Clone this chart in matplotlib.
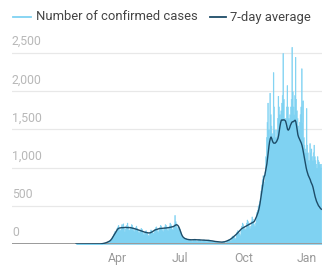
import matplotlib
matplotlib.use("Agg")
import matplotlib.pyplot as plt
from matplotlib.lines import Line2D
import numpy as np
import pandas as pd

plt.rcParams['font.family'] = ['Roboto', 'DejaVu Sans']

start_date = "2020-02-01"

# Daily confirmed cases (from 2020-02-01)
feb_cases = [0] * 29
daily_cases = [
    0, 0, 0, 0, 1, 2, 3,
    5, 4, 8, 12, 10, 15, 20,
    18, 25, 30, 35, 28, 45, 50,
    60, 75, 90, 110, 130, 150, 170,
    160, 190, 210, 230, 250, 200, 180,
    190, 220, 260, 240, 270, 210, 170,
    200, 230, 250, 280, 240, 190, 180,
    210, 230, 260, 250, 220, 180, 170,
    200, 220, 240, 210, 190, 160, 150,
    170, 190, 210, 200, 170, 140, 130,
    150, 170, 180, 160, 150, 120, 110,
    140, 160, 190, 180, 170, 150, 140,
    170, 200, 220, 230, 200, 170, 160,
    190, 220, 250, 240, 210, 180, 170,
    200, 230, 260, 250, 230, 190, 180,
    210, 240, 280, 260, 240, 200, 190,
    230, 260, 380, 300, 270, 220, 200,
    230, 220, 200, 170, 150, 110, 90,
    90, 80, 75, 70, 80, 60, 50,
    60, 70, 65, 60, 55, 45, 40,
    55, 65, 60, 70, 55, 45, 40,
    50, 60, 65, 60, 55, 45, 40,
    50, 55, 60, 55, 50, 40, 35,
    45, 55, 60, 50, 50, 40, 35,
    40, 45, 40, 40, 35, 30, 25,
    30, 35, 30, 30, 25, 20, 20,
    25, 30, 35, 30, 25, 20, 20,
    35, 45, 55, 60, 55, 50, 45,
    80, 100, 110, 100, 95, 80, 70,
    130, 160, 180, 170, 150, 130, 120,
    190, 240, 280, 260, 230, 200, 190,
    210, 280, 320, 300, 280, 230, 210,
    240, 300, 360, 330, 300, 260, 240,
    280, 350, 420, 450, 500, 520, 560,
    600, 700, 780, 850, 900, 820, 800,
    950, 1150, 1400, 1600, 1850, 1500, 1400,
    1980, 1700, 1550, 1450, 1400, 2250, 1800,
    1500, 1400, 1400, 1500, 1650, 1940, 1800,
    1700, 1650, 1750, 1850, 1950, 2500, 1900,
    1650, 1550, 1650, 1800, 2080, 1800, 1650,
    1600, 1700, 1800, 1900, 2580, 2000, 1800,
    1700, 1950, 2450, 1900, 1750, 1650, 1550,
    1500, 1600, 1700, 1800, 2300, 1600, 1880,
    1400, 1300, 1250, 1200, 1780, 1300, 1200,
    1100, 1050, 1320, 1200, 1250, 1150, 1100,
    1200, 1300, 1150, 1100, 1050, 1000, 1150,
    1100, 1080, 1050, 1000, 1050, 1000,
]

# 7-day average (from 2020-02-01)
feb_avg = [0] * 29
avg_7day = [
    0, 0, 0, 0, 0, 1, 1,
    2, 3, 4, 6, 8, 10, 12,
    15, 18, 22, 26, 30, 35, 40,
    48, 58, 70, 85, 100, 115, 130,
    145, 160, 175, 190, 200, 205, 210,
    210, 212, 215, 214, 213, 215, 216,
    217, 218, 216, 215, 214, 214, 215,
    215, 214, 212, 210, 208, 205, 202,
    200, 198, 195, 192, 190, 187, 184,
    180, 177, 174, 170, 167, 164, 160,
    157, 154, 152, 150, 148, 146, 145,
    145, 146, 148, 152, 157, 162, 168,
    175, 180, 185, 188, 192, 195, 198,
    200, 202, 203, 204, 205, 206, 206,
    207, 207, 208, 209, 210, 211, 212,
    213, 215, 217, 219, 221, 223, 225,
    228, 232, 238, 245, 250, 252, 248,
    240, 225, 205, 180, 155, 130, 110,
    95, 85, 78, 72, 68, 65, 62,
    60, 58, 57, 56, 56, 55, 55,
    55, 56, 57, 57, 57, 56, 55,
    55, 55, 54, 54, 53, 53, 52,
    52, 51, 51, 50, 50, 49, 49,
    48, 48, 47, 47, 46, 45, 44,
    42, 40, 38, 36, 34, 33, 32,
    30, 29, 28, 27, 26, 25, 25,
    25, 25, 26, 27, 28, 30, 33,
    36, 40, 44, 48, 52, 56, 62,
    68, 75, 82, 90, 98, 106, 114,
    122, 130, 140, 150, 160, 170, 180,
    190, 198, 205, 210, 215, 220, 225,
    230, 235, 240, 245, 250, 255, 260,
    265, 270, 275, 280, 285, 290, 300,
    320, 340, 360, 385, 410, 440, 480,
    530, 590, 650, 710, 770, 830, 880,
    900, 950, 1000, 1050, 1120, 1200, 1280,
    1340, 1380, 1400, 1380, 1350, 1330, 1320,
    1320, 1320, 1330, 1340, 1360, 1380, 1420,
    1480, 1540, 1590, 1620, 1625, 1620, 1625,
    1625, 1620, 1610, 1580, 1540, 1500, 1490,
    1500, 1520, 1550, 1570, 1590, 1600, 1600,
    1605, 1615, 1620, 1600, 1550, 1490, 1430,
    1400, 1380, 1360, 1340, 1320, 1290, 1250,
    1200, 1150, 1100, 1050, 1000, 960, 930,
    900, 880, 860, 840, 810, 790, 770,
    740, 700, 660, 620, 590, 560, 540,
    520, 500, 490, 475, 465, 455,
]

y_ticks = [0, 500, 1000, 1500, 2000, 2500]
y_tick_labels = ["0", "500", "1,000", "1,500", "2,000", "2,500"]
x_ticks = ["2020-04-01", "2020-07-01", "2020-10-01", "2021-01-01"]
x_tick_labels = ["Apr", "Jul", "Oct", "Jan"]
series_labels = ["Number of confirmed cases", "7-day average"]

cases = feb_cases + daily_cases
avg = feb_avg + avg_7day
dates = pd.date_range(start_date, periods=len(cases), freq="D")

LIGHT = "#7fd2f2"
DARK = "#1d4c68"
W, H = 322, 266

fig = plt.figure(figsize=(3.22, 2.66), dpi=100)
ax = fig.add_axes([12 / W, 22 / H, 1 - 12 / W, 204 / H])

ax.set_ylim(0, 2670)
ax.set_xlim(pd.Timestamp("2019-10-31"), pd.Timestamp("2021-01-23"))

for v in y_ticks[1:]:
    ax.axhline(v, color="#e8e8e8", lw=0.9, zorder=0)

ax.fill_between(dates, 0, cases, step="mid", color=LIGHT, linewidth=0.4,
                edgecolor=LIGHT, zorder=2)
ax.axhline(0, color="#9a9a9a", lw=1.4, zorder=3)
ax.plot(dates, avg, color=DARK, lw=1.0, zorder=4)

for v, lab in zip(y_ticks, y_tick_labels):
    ax.annotate(lab, xy=(0, v), xycoords=ax.get_yaxis_transform(),
                xytext=(0, 3.5), textcoords="offset points",
                ha="left", va="bottom", fontsize=8.8, color="#b8b8b8")

ax.set_yticks([])
ax.set_xticks([pd.Timestamp(t) for t in x_ticks])
ax.set_xticklabels(x_tick_labels, fontsize=8.8, color="#9a9a9a")
ax.tick_params(axis="x", length=0, pad=6)
for s in ax.spines.values():
    s.set_visible(False)

# Legend drawn manually in figure pixel positions
leg_y = 1 - 17 / H
fig.add_artist(Line2D([13 / W, 31 / W], [leg_y, leg_y], color=LIGHT, lw=1.3,
                      transform=fig.transFigure))
fig.text(36 / W, leg_y, series_labels[0], ha="left", va="center",
         fontsize=9.4, color="#444444")
fig.add_artist(Line2D([210 / W, 226 / W], [leg_y, leg_y], color=DARK, lw=1.3,
                      transform=fig.transFigure))
fig.text(230 / W, leg_y, series_labels[1], ha="left", va="center",
         fontsize=9.4, color="#444444")

fig.savefig("out.png", dpi=100)
